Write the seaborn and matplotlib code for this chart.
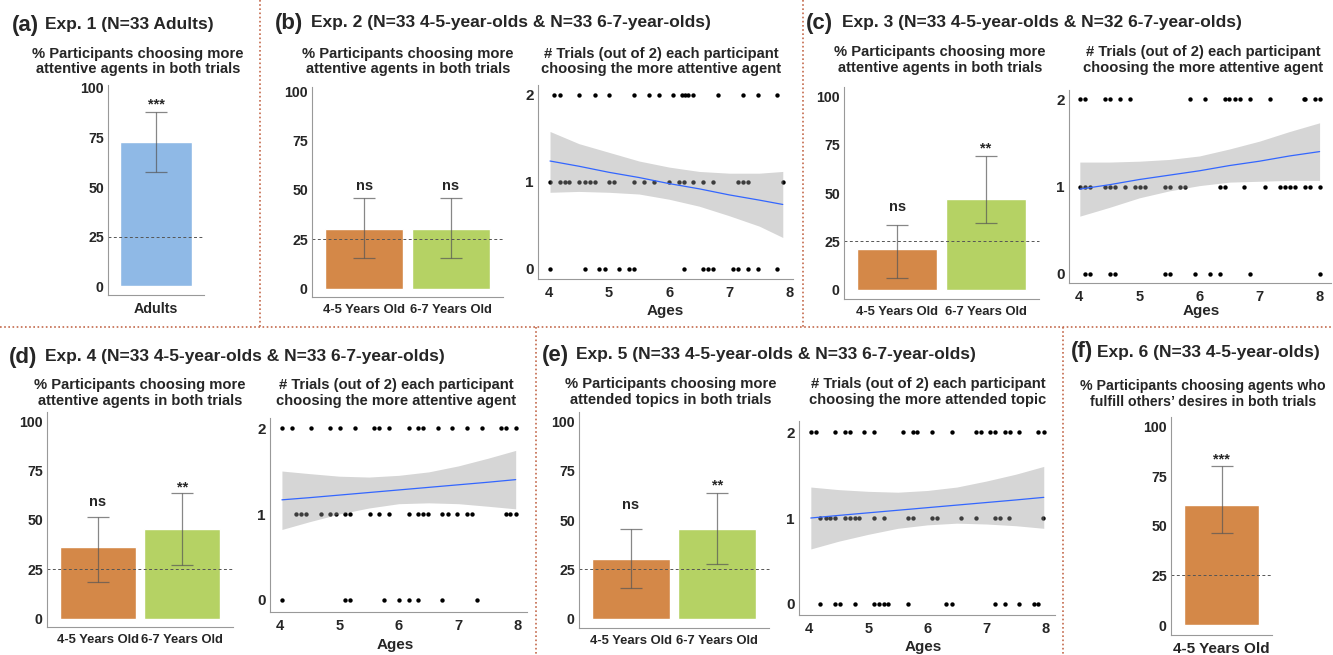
import numpy as np
import pandas as pd
import matplotlib
matplotlib.use("Agg")
import matplotlib.pyplot as plt
from matplotlib.lines import Line2D
import seaborn as sns

# ---- data ----
# bar panels: % of participants choosing the expected agent in both trials
a_groups = ["Adults"]
a_pct = [72.7]
a_lo = [57.6]
a_hi = [87.9]
a_sig = ["***"]

b_groups = ["4-5 Years Old", "6-7 Years Old"]
b_pct = [30.3, 30.3]
b_lo = [15.5, 15.5]
b_hi = [45.7, 45.7]
b_sig = ["ns", "ns"]

c_groups = ["4-5 Years Old", "6-7 Years Old"]
c_pct = [21.2, 46.9]
c_lo = [6.0, 34.4]
c_hi = [33.3, 69.0]
c_sig = ["ns", "**"]

d_groups = ["4-5 Years Old", "6-7 Years Old"]
d_pct = [36.4, 45.5]
d_lo = [18.5, 27.4]
d_hi = [51.5, 63.5]
d_sig = ["ns", "**"]

e_groups = ["4-5 Years Old", "6-7 Years Old"]
e_pct = [30.3, 45.5]
e_lo = [15.3, 27.5]
e_hi = [45.6, 63.6]
e_sig = ["ns", "**"]

f_groups = ["4-5 Years Old"]
f_pct = [60.6]
f_lo = [46.3]
f_hi = [80.0]
f_sig = ["***"]

# scatter panels: ages of children with 2 / 1 / 0 trials correct
b_age2 = [4.09, 4.18, 4.51, 4.76, 5.00, 5.41, 5.66, 5.83, 6.07, 6.22, 6.27, 6.32, 6.40, 6.81, 7.23, 7.47, 7.80]
b_age1 = [4.02, 4.18, 4.27, 4.34, 4.51, 4.60, 4.68, 4.76, 5.00, 5.09, 5.41, 5.58, 5.75, 6.00, 6.16, 6.24,
          6.40, 6.57, 6.73, 7.15, 7.23, 7.31, 7.89]
b_age0 = [4.02, 4.60, 4.84, 4.93, 5.17, 5.34, 5.41, 6.24, 6.57, 6.65, 6.73, 7.07, 7.15, 7.31, 7.47, 7.80]

c_age2 = [4.01, 4.10, 4.43, 4.52, 4.68, 4.84, 5.85, 6.09, 6.43, 6.50, 6.59, 6.67, 6.84, 7.17, 7.74, 7.76, 7.92, 8.00]
c_age1 = [4.01, 4.10, 4.18, 4.43, 4.52, 4.60, 4.76, 4.93, 5.01, 5.09, 5.42, 5.51, 5.67, 5.76, 6.34, 6.42,
          6.75, 7.09, 7.34, 7.42, 7.51, 7.59, 7.75, 7.84, 8.00]
c_age0 = [4.10, 4.18, 4.52, 4.60, 5.42, 5.51, 5.92, 6.17, 6.34, 6.84, 8.00]

d_age2 = [4.04, 4.21, 4.53, 4.85, 5.02, 5.27, 5.58, 5.67, 5.83, 6.17, 6.33, 6.40, 6.66, 6.90, 7.14, 7.39,
          7.72, 7.80, 7.96]
d_age1 = [4.28, 4.36, 4.45, 4.69, 4.85, 4.94, 5.10, 5.19, 5.51, 5.67, 5.83, 6.17, 6.33, 6.40, 6.49, 6.73,
          6.82, 6.98, 7.14, 7.23, 7.80, 7.87, 7.96]
d_age0 = [4.04, 5.10, 5.19, 5.76, 6.00, 6.17, 6.33, 6.73, 7.31]

e_age2 = [4.03, 4.11, 4.44, 4.60, 4.69, 4.93, 5.10, 5.59, 5.75, 5.83, 6.08, 6.41, 6.82, 6.90, 7.06, 7.14,
          7.31, 7.40, 7.55, 7.88, 7.97]
e_age1 = [4.19, 4.28, 4.36, 4.44, 4.60, 4.69, 4.77, 4.85, 5.10, 5.26, 5.67, 5.75, 6.08, 6.16, 6.57, 6.82,
          7.15, 7.23, 7.39, 7.96]
e_age0 = [4.19, 4.44, 4.52, 4.77, 5.10, 5.18, 5.26, 5.34, 5.67, 6.32, 6.41, 7.15, 7.31, 7.55, 7.80, 7.88]

# fitted line and its confidence band, read at a few ages
b_fx = [4.02, 4.5, 5, 5.5, 6, 6.5, 7, 7.5, 7.89]
b_fy = [1.24, 1.18, 1.11, 1.05, 0.98, 0.92, 0.85, 0.79, 0.74]
b_fhi = [1.58, 1.44, 1.34, 1.24, 1.17, 1.12, 1.10, 1.10, 1.12]
b_flo = [0.88, 0.89, 0.88, 0.86, 0.80, 0.72, 0.61, 0.49, 0.36]

c_fx = [4.01, 4.5, 5, 5.5, 6, 6.5, 7, 7.5, 8.0]
c_fy = [0.97, 1.02, 1.08, 1.13, 1.18, 1.24, 1.29, 1.35, 1.40]
c_fhi = [1.28, 1.28, 1.29, 1.31, 1.35, 1.43, 1.52, 1.63, 1.73]
c_flo = [0.66, 0.76, 0.87, 0.95, 1.01, 1.05, 1.06, 1.07, 1.07]

d_fx = [4.04, 4.5, 5, 5.5, 6, 6.5, 7, 7.5, 7.96]
d_fy = [1.165, 1.19, 1.22, 1.25, 1.28, 1.31, 1.34, 1.37, 1.40]
d_fhi = [1.50, 1.47, 1.44, 1.43, 1.45, 1.49, 1.56, 1.65, 1.74]
d_flo = [0.82, 0.91, 1.00, 1.07, 1.12, 1.13, 1.12, 1.09, 1.06]

e_fx = [4.03, 4.5, 5, 5.5, 6, 6.5, 7, 7.5, 7.97]
e_fy = [1.00, 1.03, 1.06, 1.09, 1.12, 1.15, 1.18, 1.21, 1.24]
e_fhi = [1.36, 1.33, 1.31, 1.30, 1.32, 1.36, 1.43, 1.51, 1.60]
e_flo = [0.64, 0.73, 0.81, 0.88, 0.92, 0.94, 0.93, 0.91, 0.88]

BLUE = "#8FB9E6"
ORANGE = "#D48848"
GREEN = "#B5D264"
SPINE = "#999999"
DIVIDER = "#C4694C"

sns.set_style("white")
plt.rcParams["font.family"] = ["Liberation Sans", "DejaVu Sans"]
plt.rcParams["font.weight"] = "bold"

W, H = 1333, 655
fig = plt.figure(figsize=(W / 100, H / 100), dpi=100)


def box(x0, y0, x1, y1):
    # pixel rectangle -> figure axes
    return fig.add_axes([x0 / W, 1 - y1 / H, (x1 - x0) / W, (y1 - y0) / H])


def style(ax, xsize=10.5, ysize=10.2):
    sns.despine(ax=ax)
    for s in ["left", "bottom"]:
        ax.spines[s].set_color(SPINE)
        ax.spines[s].set_linewidth(0.8)
    ax.tick_params(axis="y", length=0, pad=3, labelsize=ysize)
    ax.tick_params(axis="x", length=3, color=SPINE, pad=2, labelsize=xsize)
    for t in ax.get_xticklabels() + ax.get_yticklabels():
        t.set_fontweight("bold")
    ax.set_xlabel("")
    ax.set_ylabel("")


def bar_panel(rect, groups, pct, lo, hi, sig, sig_y, colors, ylim, xsize=9.4):
    ax = box(*rect)
    sns.barplot(x=groups, y=pct, hue=groups, palette=colors, saturation=1,
                width=0.9, legend=False, ax=ax)
    pct, lo, hi = np.array(pct), np.array(lo), np.array(hi)
    ax.errorbar(range(len(groups)), pct, yerr=[pct - lo, hi - pct], fmt="none",
                ecolor="#555555", elinewidth=0.9, capsize=8, capthick=0.9, alpha=0.7)
    ax.axhline(25, color="#555555", lw=0.7, ls=(0, (3, 2.5)), clip_on=False)
    for i, s in enumerate(sig):
        ax.text(i, sig_y[i], s, ha="center", va="baseline", fontsize=10.5, fontweight="bold")
    ax.set_xlim(-0.6, len(groups) - 0.4)
    ax.set_ylim(*ylim)
    ax.set_yticks([0, 25, 50, 75, 100])
    style(ax, xsize=xsize)
    return ax


def scatter_panel(rect, age2, age1, age0, fx, fy, flo, fhi, xlim, ylim):
    ax = box(*rect)
    df = pd.DataFrame({"age": age2 + age1 + age0,
                       "trials": [2] * len(age2) + [1] * len(age1) + [0] * len(age0)})
    sns.scatterplot(data=df, x="age", y="trials", color="black", s=10, linewidth=0, ax=ax, zorder=2)
    ax.fill_between(fx, flo, fhi, color="#999999", alpha=0.4, lw=0, zorder=3)
    sns.lineplot(x=fx, y=fy, color="#3366FF", lw=0.9, ax=ax, zorder=4)
    ax.set_xlim(*xlim)
    ax.set_ylim(*ylim)
    ax.set_xticks([4, 5, 6, 7, 8])
    ax.set_yticks([0, 1, 2])
    style(ax, xsize=10.5, ysize=11)
    return ax


def title(xl, xt, y, label, text):
    fig.text(xl / W, 1 - y / H, label, fontsize=16, fontweight="bold", va="center")
    fig.text(xt / W, 1 - y / H, text, fontsize=12.5, fontweight="bold", va="center")


def subtitle(x, y, text, size=10.6):
    fig.text(x / W, 1 - y / H, text, fontsize=size, fontweight="bold",
             ha="center", va="center", linespacing=1.1)


def ages(x, y):
    fig.text(x / W, 1 - y / H, "Ages", fontsize=11, fontweight="bold", ha="center", va="center")


BAR_T = "% Participants choosing more\nattentive agents in both trials"
SC_T = "# Trials (out of 2) each participant\nchoosing the more attentive agent"

# (a)
bar_panel((108, 85, 204, 295), a_groups, a_pct, a_lo, a_hi, a_sig, [89.8], [BLUE], (-4.5, 101.5), xsize=10.3)
title(12, 45, 25, "(a)", "Exp. 1 (N=33 Adults)")
subtitle(138, 61.5, BAR_T)

# (b)
bar_panel((312, 87, 503, 297), b_groups, b_pct, b_lo, b_hi, b_sig, [49.9, 49.9], [ORANGE, GREEN], (-4.3, 102.2))
scatter_panel((538, 85, 793, 279), b_age2, b_age1, b_age0, b_fx, b_fy, b_flo, b_fhi,
              (3.82, 8.06), (-0.118, 2.115))
title(275, 311, 23, "(b)", "Exp. 2 (N=33 4-5-year-olds & N=33 6-7-year-olds)")
subtitle(408, 61.5, BAR_T)
subtitle(661, 61.5, SC_T)
ages(665, 311)

# (c)
bar_panel((844, 87, 1039, 299), c_groups, c_pct, c_lo, c_hi, c_sig, [41.0, 70.8], [ORANGE, GREEN], (-4.7, 104.8))
scatter_panel((1069, 90, 1331, 283), c_age2, c_age1, c_age0, c_fx, c_fy, c_flo, c_fhi,
              (3.83, 8.19), (-0.106, 2.106))
title(806, 842, 23, "(c)", "Exp. 3 (N=33 4-5-year-olds & N=32 6-7-year-olds)")
subtitle(940, 60, BAR_T)
subtitle(1203, 60, SC_T)
ages(1201, 311)

# (d)
bar_panel((47, 412, 233, 627), d_groups, d_pct, d_lo, d_hi, d_sig, [57.2, 64.4], [ORANGE, GREEN], (-4.3, 104.8))
scatter_panel((270, 418, 527, 612), d_age2, d_age1, d_age0, d_fx, d_fy, d_flo, d_fhi,
              (3.84, 8.15), (-0.14, 2.117))
title(9, 45, 357, "(d)", "Exp. 4 (N=33 4-5-year-olds & N=33 6-7-year-olds)")
subtitle(140, 393, BAR_T)
subtitle(396, 393, SC_T)
ages(395, 645)

# (e)
bar_panel((579, 412, 769, 628), e_groups, e_pct, e_lo, e_hi, e_sig, [55.8, 65.3], [ORANGE, GREEN], (-4.8, 104.8))
scatter_panel((799, 421, 1055, 615), e_age2, e_age1, e_age0, e_fx, e_fy, e_flo, e_fhi,
              (3.83, 8.16), (-0.128, 2.128))
title(542, 576, 355, "(e)", "Exp. 5 (N=33 4-5-year-olds & N=33 6-7-year-olds)")
subtitle(671, 392, "% Participants choosing more\nattended topics in both trials")
subtitle(928, 392, "# Trials (out of 2) each participant\nchoosing the more attended topic")
ages(923, 647)

# (f)
bar_panel((1171, 417, 1272, 635), f_groups, f_pct, f_lo, f_hi, f_sig, [81.2], [ORANGE], (-5, 104.7), xsize=11)
title(1071, 1097, 352, "(f)", "Exp. 6 (N=33 4-5-year-olds)")
subtitle(1203, 394, "% Participants choosing agents who\nfulfill others\u2019 desires in both trials", size=10.2)

# dotted dividers between panels
div = dict(color=DIVIDER, lw=1.2, ls=(0, (1, 1.5)), transform=fig.transFigure)
for x0, y0, x1, y1 in [(0, 327, W, 327), (260, 0, 260, 327), (803, 0, 803, 327),
                       (536, 327, 536, H), (1063, 327, 1063, H)]:
    fig.add_artist(Line2D([x0 / W, x1 / W], [1 - y0 / H, 1 - y1 / H], **div))

fig.savefig("out.png", dpi=100)
